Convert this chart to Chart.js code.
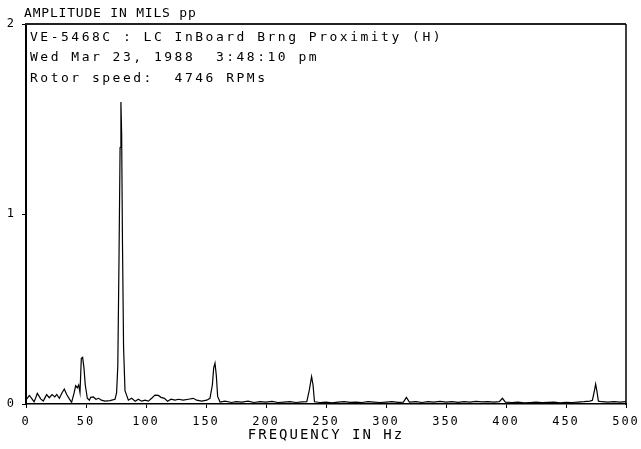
<!DOCTYPE html>
<html>
<head>
    <title>Spectrum</title>
    <script src="https://cdn.jsdelivr.net/npm/chart.js"></script>
    <style>
        body { margin: 0; background: #fff; }
    </style>
</head>
<body>
    <canvas id="chart" width="641" height="449"></canvas>

    <script>
        // spectrum: frequency (Hz) and amplitude (mils pp)
        var freq = [
            0, 1, 2.8, 4.7, 6.7, 8, 9.4, 11, 12.2, 14.4, 16, 17.2, 19.4, 21.7, 24, 25.6, 27.8, 29.7,
            31.9, 33.9, 36.1, 38, 40, 41.4, 42.8, 43.9, 45, 46.1, 47.2, 48.3, 49.4, 51.1, 52.8, 53.9,
            56.1, 58.3, 60.5, 62.8, 65.8, 70, 74.2, 75.5, 76.5, 77.5, 78.4, 79.1, 79.7, 80.4, 81.3,
            82.5, 84.2, 85.3, 88, 91, 93.6, 96.4, 99.2, 102, 104.7, 107.5, 110.3, 112.5, 115.3, 118,
            120.8, 124.2, 127, 131, 135.3, 139.4, 142.2, 146.4, 150.6, 153.3, 155.3, 156.4, 157.5,
            158.6, 159.7, 161.7, 165.8, 171.4, 175, 180, 185, 190, 195, 200, 205, 210, 215, 220, 225,
            230, 234, 236, 238, 239.2, 240.4, 245, 250, 255, 260, 265, 270, 275, 280, 285, 290, 295,
            300, 305, 310, 314.5, 317, 319.5, 325, 330, 335, 340, 345, 350, 355, 360, 365, 370, 375,
            380, 385, 390, 394.5, 397, 399.5, 405, 410, 415, 420, 425, 430, 435, 440, 445, 450, 455,
            460, 465, 470, 472, 473.7, 474.7, 475.7, 477, 480, 485, 490, 495, 500
        ];
        var amplitude = [
            0.02, 0.03, 0.045, 0.03, 0.012, 0.03, 0.056, 0.04, 0.027, 0.016, 0.035, 0.05, 0.033, 0.05, 0.037, 0.05, 0.03, 0.055,
            0.079, 0.05, 0.027, 0.009, 0.056, 0.097, 0.085, 0.1, 0.06, 0.24, 0.245, 0.19, 0.1, 0.03, 0.02, 0.035,
            0.037, 0.025, 0.03, 0.02, 0.015, 0.018, 0.025, 0.06, 0.2, 0.76, 1.35, 1.59, 1.42, 0.85, 0.3,
            0.07, 0.04, 0.02, 0.03, 0.015, 0.025, 0.015, 0.02, 0.015, 0.03, 0.047, 0.045, 0.035, 0.03, 0.015,
            0.025, 0.02, 0.025, 0.02, 0.025, 0.03, 0.02, 0.015, 0.02, 0.03, 0.1, 0.19, 0.215,
            0.15, 0.04, 0.01, 0.015, 0.008, 0.012, 0.01, 0.015, 0.008, 0.012, 0.01, 0.014, 0.008, 0.01, 0.012, 0.008,
            0.011, 0.012, 0.07, 0.144, 0.1, 0.012, 0.008, 0.01, 0.006, 0.01, 0.012, 0.009, 0.01, 0.008, 0.012, 0.01, 0.008,
            0.01, 0.012, 0.009, 0.01, 0.035, 0.01, 0.012, 0.008, 0.012, 0.01, 0.014, 0.01, 0.013, 0.009, 0.012, 0.01, 0.014,
            0.011, 0.012, 0.01, 0.012, 0.03, 0.01, 0.008, 0.01, 0.006, 0.008, 0.01, 0.007, 0.009, 0.01, 0.006, 0.009, 0.008,
            0.01, 0.012, 0.015, 0.02, 0.07, 0.105, 0.07, 0.015, 0.012, 0.01, 0.012, 0.01, 0.012
        ];

        var yTitle = 'AMPLITUDE IN MILS pp';
        var xTitle = 'FREQUENCY IN Hz';
        var headerLines = [
            'VE-5468C : LC InBoard Brng Proximity (H)',
            'Wed Mar 23, 1988  3:48:10 pm',
            'Rotor speed:  4746 RPMs'
        ];

        var mono = "'DejaVu Sans Mono', 'Liberation Mono', monospace";

        // wide plotter-style lettering + frame and header text
        var plotterPlugin = {
            id: 'plotter',
            beforeDraw: function(chart) {
                chart.ctx.letterSpacing = '2px';
            },
            afterDraw: function(chart) {
                var ctx = chart.ctx;
                var a = chart.chartArea;
                ctx.save();
                ctx.strokeStyle = '#222';
                ctx.lineWidth = 2;
                ctx.beginPath();
                ctx.moveTo(a.left - 1, a.top);
                ctx.lineTo(a.right, a.top);
                ctx.stroke();
                ctx.strokeStyle = '#000';
                ctx.lineWidth = 1.5;
                ctx.beginPath();
                ctx.moveTo(a.right, a.top);
                ctx.lineTo(a.right, a.bottom + 1);
                ctx.stroke();

                ctx.fillStyle = '#000';
                ctx.textAlign = 'left';
                ctx.textBaseline = 'alphabetic';
                ctx.font = '13px ' + mono;
                ctx.letterSpacing = '0.8px';
                ctx.fillText(yTitle, 24, 17);

                ctx.letterSpacing = '2.5px';
                for (var i = 0; i < headerLines.length; i++) {
                    ctx.fillText(headerLines[i], 30, 41 + i * 20.3);
                }
                ctx.restore();
                ctx.letterSpacing = '0px';
            }
        };

        var points = freq.map(function(f, i) {
            return { x: f, y: amplitude[i] };
        });

        var ctx = document.getElementById('chart').getContext('2d');
        new Chart(ctx, {
            type: 'line',
            data: {
                datasets: [{
                    data: points,
                    borderColor: '#000',
                    borderWidth: 1.2,
                    pointRadius: 0,
                    fill: false,
                    tension: 0
                }]
            },
            options: {
                responsive: false,
                devicePixelRatio: 1,
                animation: false,
                layout: { padding: { top: 24, right: 15, left: 0, bottom: 0 } },
                plugins: {
                    legend: { display: false },
                    tooltip: { enabled: false }
                },
                scales: {
                    x: {
                        type: 'linear',
                        min: 0,
                        max: 500,
                        afterFit: function(scale) {
                            scale.height = 45;
                            scale.paddingLeft = 0;
                            scale.paddingRight = 0;
                        },
                        ticks: {
                            stepSize: 50,
                            color: '#000',
                            font: { family: mono, size: 12 },
                            padding: 7,
                            maxRotation: 0,
                            autoSkip: false
                        },
                        grid: {
                            drawOnChartArea: false,
                            drawTicks: true,
                            tickLength: 4,
                            color: '#000'
                        },
                        border: { display: true, color: '#000', width: 1.5 },
                        title: {
                            display: true,
                            text: xTitle,
                            color: '#000',
                            font: { family: mono, size: 14 },
                            padding: { top: 0, bottom: 5 }
                        }
                    },
                    y: {
                        min: 0,
                        max: 2,
                        afterFit: function(scale) {
                            scale.width = 26;
                            scale.paddingTop = 0;
                            scale.paddingBottom = 0;
                        },
                        ticks: {
                            stepSize: 1,
                            color: '#000',
                            font: { family: mono, size: 12 },
                            padding: 6
                        },
                        grid: {
                            drawOnChartArea: false,
                            drawTicks: true,
                            tickLength: 4,
                            color: '#000'
                        },
                        border: { display: true, color: '#000', width: 2 }
                    }
                }
            },
            plugins: [plotterPlugin]
        });
    </script>
</body>
</html>
